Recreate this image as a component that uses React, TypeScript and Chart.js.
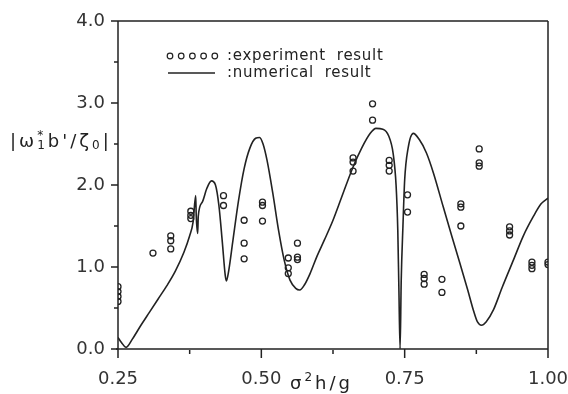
import React, { useEffect, useRef } from 'react';
import { Chart, registerables } from 'chart.js';
Chart.register(...registerables);

// experiment result points
const expX = [
  0.25, 0.25, 0.25, 0.25,
  0.311,
  0.342, 0.342, 0.342,
  0.377, 0.377, 0.377,
  0.434, 0.434,
  0.470, 0.470, 0.470,
  0.502, 0.502, 0.502,
  0.547, 0.547, 0.547,
  0.563, 0.563, 0.563,
  0.660, 0.660, 0.660,
  0.694, 0.694,
  0.723, 0.723, 0.723,
  0.755, 0.755,
  0.784, 0.784, 0.784,
  0.815, 0.815,
  0.848, 0.848, 0.848,
  0.880, 0.880, 0.880,
  0.933, 0.933, 0.933,
  0.972, 0.972, 0.972,
  1.0, 1.0,
];
const expY = [
  0.58, 0.64, 0.70, 0.76,
  1.17,
  1.38, 1.32, 1.22,
  1.68, 1.63, 1.59,
  1.87, 1.75,
  1.57, 1.29, 1.10,
  1.79, 1.75, 1.56,
  1.11, 0.99, 0.92,
  1.29, 1.12, 1.09,
  2.33, 2.28, 2.17,
  2.99, 2.79,
  2.30, 2.24, 2.17,
  1.88, 1.67,
  0.91, 0.86, 0.79,
  0.85, 0.69,
  1.77, 1.73, 1.50,
  2.44, 2.27, 2.23,
  1.49, 1.44, 1.39,
  1.06, 1.02, 0.98,
  1.06, 1.03,
];

// numerical result curve
const curveX = [
  0.250, 0.256, 0.264, 0.275, 0.290, 0.305, 0.320, 0.335, 0.350, 0.365, 0.375, 0.381,
  0.3855, 0.3865, 0.389, 0.390, 0.397, 0.405, 0.413, 0.420, 0.426, 0.432, 0.437, 0.439,
  0.443, 0.450, 0.460, 0.470, 0.480, 0.490, 0.497, 0.503, 0.510, 0.520, 0.530, 0.540,
  0.550, 0.560, 0.567, 0.575, 0.585, 0.597, 0.610, 0.625, 0.640, 0.660, 0.675, 0.690,
  0.700, 0.712, 0.722, 0.730, 0.735, 0.738, 0.740, 0.742, 0.744, 0.747, 0.750, 0.756,
  0.765, 0.775, 0.788, 0.800, 0.817, 0.832, 0.847, 0.860, 0.870, 0.877, 0.884, 0.892,
  0.905, 0.920, 0.940, 0.957, 0.974, 0.988, 1.0,
];
const curveY = [
  0.14, 0.08, 0.02, 0.12, 0.29, 0.45, 0.61, 0.77, 0.95, 1.18, 1.38, 1.55,
  1.87, 1.62, 1.41, 1.62, 1.79, 1.96, 2.05, 2.00, 1.75, 1.30, 0.90, 0.83,
  0.95, 1.30, 1.80, 2.20, 2.45, 2.57, 2.58, 2.50, 2.30, 1.90, 1.45, 1.08,
  0.84, 0.74, 0.72, 0.78, 0.92, 1.13, 1.33, 1.57, 1.85, 2.22, 2.45, 2.63,
  2.69, 2.68, 2.60, 2.38, 2.00, 1.45, 0.70, 0.0, 0.84, 1.50, 2.06, 2.45,
  2.63, 2.56, 2.39, 2.15, 1.74, 1.38, 1.03, 0.72, 0.47, 0.33, 0.29, 0.33,
  0.48, 0.75, 1.09, 1.38, 1.61, 1.77, 1.84,
];

const xTicks = [0.25, 0.5, 0.75, 1.0];
const xMinorTicks = [0.375, 0.625, 0.875];
const yTicks = [0, 1, 2, 3, 4];
const yMinorTicks = [0.5, 1.5, 2.5, 3.5];
const legendLabels = [':experiment  result', ':numerical  result'];

const INK = '#222';
const FONT = '"DejaVu Sans", sans-serif';

const decorPlugin = {
  id: 'decor',
  afterDraw(chart: any) {
    const ctx = chart.ctx;
    const xs = chart.scales.x;
    const ys = chart.scales.y;
    const { left, right, top, bottom } = chart.chartArea;
    ctx.save();
    ctx.strokeStyle = INK;
    ctx.fillStyle = INK;
    ctx.lineWidth = 1.5;
    // box
    ctx.beginPath();
    ctx.moveTo(left, top);
    ctx.lineTo(right, top);
    ctx.moveTo(left, top);
    ctx.lineTo(left, bottom);
    ctx.moveTo(left - 2, bottom);
    ctx.lineTo(right, bottom);
    ctx.moveTo(right, top);
    ctx.lineTo(right, bottom);
    ctx.stroke();
    // ticks
    ctx.beginPath();
    xTicks.forEach((v) => {
      const px = xs.getPixelForValue(v);
      ctx.moveTo(px, bottom);
      ctx.lineTo(px, bottom + 9);
    });
    xMinorTicks.forEach((v) => {
      const px = xs.getPixelForValue(v);
      ctx.moveTo(px, bottom + 1);
      ctx.lineTo(px, bottom + 5);
    });
    yTicks.forEach((v) => {
      const py = ys.getPixelForValue(v);
      ctx.moveTo(left - 7, py);
      ctx.lineTo(left, py);
    });
    yMinorTicks.forEach((v) => {
      const py = ys.getPixelForValue(v);
      ctx.moveTo(left - 4, py);
      ctx.lineTo(left, py);
    });
    ctx.stroke();

    // legend
    const lx0 = 170;
    const ly1 = 56;
    const ly2 = 73;
    ctx.lineWidth = 1.2;
    for (let i = 0; i < 5; i++) {
      ctx.beginPath();
      ctx.arc(lx0 + i * 11.2, ly1, 2.8, 0, Math.PI * 2);
      ctx.stroke();
    }
    ctx.lineWidth = 1.5;
    ctx.beginPath();
    ctx.moveTo(168, ly2);
    ctx.lineTo(215, ly2);
    ctx.stroke();
    ctx.font = `15px ${FONT}`;
    ctx.letterSpacing = '0.7px';
    ctx.textBaseline = 'middle';
    ctx.textAlign = 'left';
    ctx.fillText(legendLabels[0], 227, ly1);
    ctx.fillText(legendLabels[1], 227, ly2);

    // y title |ω*1 b'/ζ0|
    const base = 147;
    let x = 10;
    const big = `18px ${FONT}`;
    const small = `12px ${FONT}`;
    ctx.letterSpacing = '3px';
    ctx.textBaseline = 'alphabetic';
    const part = (t: string, f: string, dy: number) => {
      ctx.font = f;
      ctx.fillText(t, x, base + dy);
      x += ctx.measureText(t).width;
    };
    part('|ω', big, 0);
    ctx.font = small;
    const starW = ctx.measureText('*').width;
    ctx.fillText('*', x, base - 8);
    ctx.fillText('1', x, base + 2);
    x += Math.max(starW, ctx.measureText('1').width);
    part("b'/ζ", big, 0);
    part('0', small, 2);
    part('|', big, 0);

    // x title σ²h/g
    x = 290;
    const xb = 389;
    ctx.letterSpacing = '3px';
    ctx.font = `18px ${FONT}`;
    ctx.fillText('σ', x, xb);
    x += ctx.measureText('σ').width;
    ctx.font = `12px ${FONT}`;
    ctx.fillText('2', x, xb - 8);
    x += ctx.measureText('2').width;
    ctx.font = `18px ${FONT}`;
    ctx.fillText('h/g', x, xb);
    ctx.letterSpacing = '0px';
    ctx.restore();
  },
};

export default function App() {
  const ref = useRef<HTMLCanvasElement | null>(null);
  useEffect(() => {
    document.body.style.margin = '0';
    const canvas = ref.current!;
    const expData = expX.map((v, i) => ({ x: v, y: expY[i] }));
    const curveData = curveX.map((v, i) => ({ x: v, y: curveY[i] }));
    const chart = new Chart(canvas, {
      type: 'scatter',
      data: {
        datasets: [
          {
            label: 'numerical result',
            data: curveData,
            showLine: true,
            borderColor: INK,
            borderWidth: 1.6,
            pointRadius: 0,
            cubicInterpolationMode: 'monotone',
            fill: false,
          } as any,
          {
            label: 'experiment result',
            data: expData,
            showLine: false,
            pointStyle: 'circle',
            pointRadius: 3,
            borderWidth: 1.3,
            borderColor: INK,
            backgroundColor: 'rgba(0,0,0,0)',
          },
        ],
      },
      options: {
        responsive: false,
        animation: false,
        devicePixelRatio: 1,
        layout: { padding: { left: 0, right: 20, top: 21, bottom: 0 } },
        plugins: { legend: { display: false }, tooltip: { enabled: false } },
        scales: {
          x: {
            type: 'linear',
            min: 0.25,
            max: 1.0,
            afterBuildTicks: (s: any) => {
              s.ticks = xTicks.map((v) => ({ value: v }));
            },
            afterFit: (s: any) => {
              s.height = 45;
              s.paddingRight = 0;
              s.paddingLeft = 0;
            },
            grid: { display: false, drawTicks: false },
            border: { display: false },
            ticks: {
              padding: 20,
              color: '#333',
              font: { family: FONT, size: 18 },
              maxRotation: 0,
              callback: (v: any) => Number(v).toFixed(2),
            },
          },
          y: {
            type: 'linear',
            min: 0,
            max: 4,
            afterBuildTicks: (s: any) => {
              s.ticks = yTicks.map((v) => ({ value: v }));
            },
            afterFit: (s: any) => {
              s.width = 118;
              s.paddingTop = 0;
              s.paddingBottom = 0;
            },
            grid: { display: false, drawTicks: false },
            border: { display: false },
            ticks: {
              padding: 13,
              color: '#333',
              font: { family: FONT, size: 18 },
              callback: (v: any) => Number(v).toFixed(1),
            },
          },
        },
      },
      plugins: [decorPlugin],
    });
    return () => chart.destroy();
  }, []);
  return <canvas ref={ref} width={568} height={394} style={{ display: 'block' }} />;
}
